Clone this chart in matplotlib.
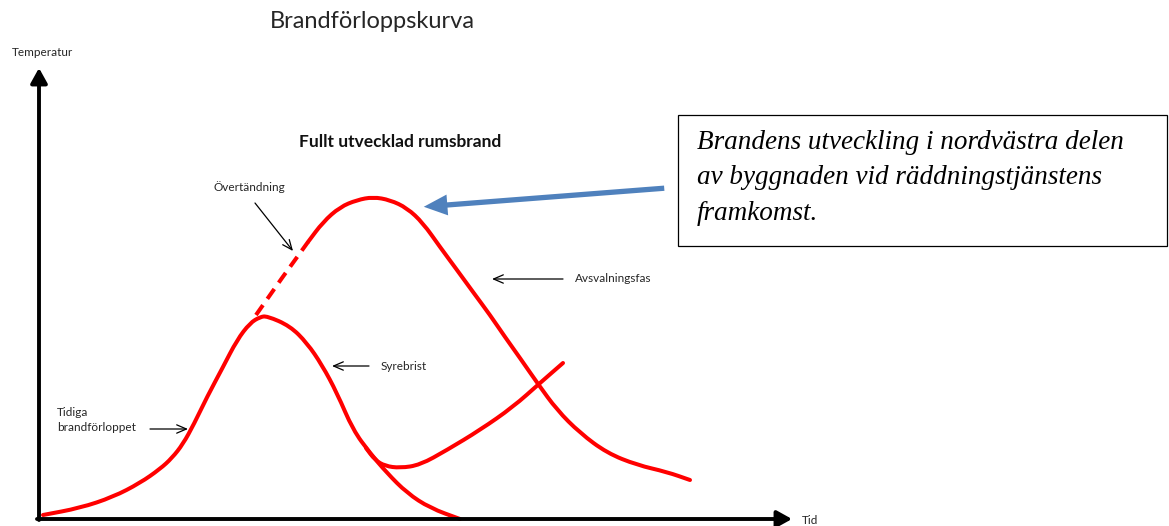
import matplotlib.pyplot as plt
from matplotlib.patches import FancyArrowPatch, Rectangle, PathPatch
from matplotlib.path import Path

# curve points (pixel space, y grows downward)
early_x = [43, 80, 113, 140, 160, 172, 183, 194, 207, 223, 237, 250, 260, 267, 290, 307, 322, 337, 353, 370, 387, 407, 430, 460]
early_y = [515, 508, 497, 483, 469, 458, 444, 424, 397, 367, 340, 323, 317, 316, 326, 343, 365, 393, 430, 453, 473, 493, 508, 519]

regrowth_x = [366, 375, 385, 400, 420, 447, 480, 513, 540, 563]
regrowth_y = [448, 460, 466, 468, 465, 450, 430, 407, 383, 363]

flashover_x = [256, 282, 308]
flashover_y = [315, 278, 242]

full_x = [308, 323, 340, 357, 373, 390, 407, 423, 440, 457, 473, 490, 505, 520, 538, 557, 580, 607, 637, 667, 690]
full_y = [242, 222, 207, 200, 197, 200, 208, 223, 247, 270, 292, 315, 337, 358, 384, 410, 433, 453, 465, 472, 480]

title = "Brandförloppskurva"
phase_title = "Fullt utvecklad rumsbrand"
y_label = "Temperatur"
x_label = "Tid"
box_lines = ["Brandens utveckling i nordvästra delen",
             "av byggnaden vid räddningstjänstens",
             "framkomst."]

# label text, text position, arrow tail, arrow head
notes = [
    ("Övertändning", (249, 187), (255, 203), (293, 251)),
    ("Avsvalningsfas", (575, 278), (563, 279), (492, 279)),
    ("Syrebrist", (381, 367), (369, 366), (332, 366)),
]


def smooth_path(xs, ys):
    # quadratic bezier through the midpoints, read points act as control points
    pts = list(zip(xs, ys))
    verts = [pts[0]]
    codes = [Path.MOVETO]
    mid = lambda a, b: ((a[0] + b[0]) / 2, (a[1] + b[1]) / 2)
    verts.append(mid(pts[0], pts[1]))
    codes.append(Path.LINETO)
    for i in range(1, len(pts) - 1):
        verts += [pts[i], mid(pts[i], pts[i + 1])]
        codes += [Path.CURVE3, Path.CURVE3]
    verts.append(pts[-1])
    codes.append(Path.LINETO)
    return Path(verts, codes)


fig = plt.figure(figsize=(11.69, 5.26), dpi=100)
ax = fig.add_axes([0, 0, 1, 1])
ax.set_xlim(0, 1169)
ax.set_ylim(526, 0)
ax.axis("off")

sans = "Lato"
ink = "#262626"

# axes arrows
ax.annotate("", xy=(39, 68), xytext=(39, 520),
            arrowprops=dict(arrowstyle="-|>,head_length=0.9,head_width=0.5", lw=2.8, color="black",
                            shrinkA=0, shrinkB=0))
ax.annotate("", xy=(792, 519), xytext=(37, 519),
            arrowprops=dict(arrowstyle="-|>,head_length=0.9,head_width=0.5", lw=2.8, color="black",
                            shrinkA=0, shrinkB=0))
ax.text(42, 53, y_label, fontsize=8.5, family=sans, color=ink, ha="center", va="center")
ax.text(802, 520, x_label, fontsize=8.5, family=sans, color=ink, ha="left", va="center")

# red curves
red = "#ff0000"
for xs, ys in [(early_x, early_y), (regrowth_x, regrowth_y), (full_x, full_y)]:
    ax.add_patch(PathPatch(smooth_path(xs, ys), fill=False, edgecolor=red, lw=2.9,
                           capstyle="round", joinstyle="round"))
ax.plot(flashover_x, flashover_y, color=red, lw=2.9, dashes=(3.0, 1.9))

# titles
ax.text(372, 22, title, fontsize=17, family=sans, color=ink, ha="center", va="center")
ax.text(400, 142, phase_title, fontsize=12.5, family=sans, weight="bold", color="#111111",
        ha="center", va="center")

# small annotations
for label, txt, tail, head in notes:
    ha = "center" if label == "Övertändning" else "left"
    ax.text(txt[0], txt[1], label, fontsize=8.5, family=sans, color=ink, ha=ha, va="center")
    ax.annotate("", xy=head, xytext=tail,
                arrowprops=dict(arrowstyle="->,head_length=0.7,head_width=0.3", lw=0.9, color="black",
                                shrinkA=0, shrinkB=0))
ax.text(57, 420, "Tidiga\nbrandförloppet", fontsize=8.5, family=sans, color=ink,
        ha="left", va="center", linespacing=1.35)
ax.annotate("", xy=(188, 429), xytext=(150, 429),
            arrowprops=dict(arrowstyle="->,head_length=0.7,head_width=0.3", lw=0.9, color="black",
                            shrinkA=0, shrinkB=0))

# blue callout arrow
ax.add_patch(FancyArrowPatch((667, 188), (421, 207),
                             arrowstyle="simple,head_length=1.7,head_width=1.5,tail_width=0.38",
                             mutation_scale=10, color="#4f81bd", lw=0))

# text box
ax.add_patch(Rectangle((678, 115), 489, 131, fill=False, edgecolor="black", lw=0.9))
ax.text(697, 178, "\n".join(box_lines), fontsize=19.5, family="Liberation Serif", style="italic",
        color="black", ha="left", va="center", linespacing=1.55)

fig.savefig("out.png", dpi=100)
